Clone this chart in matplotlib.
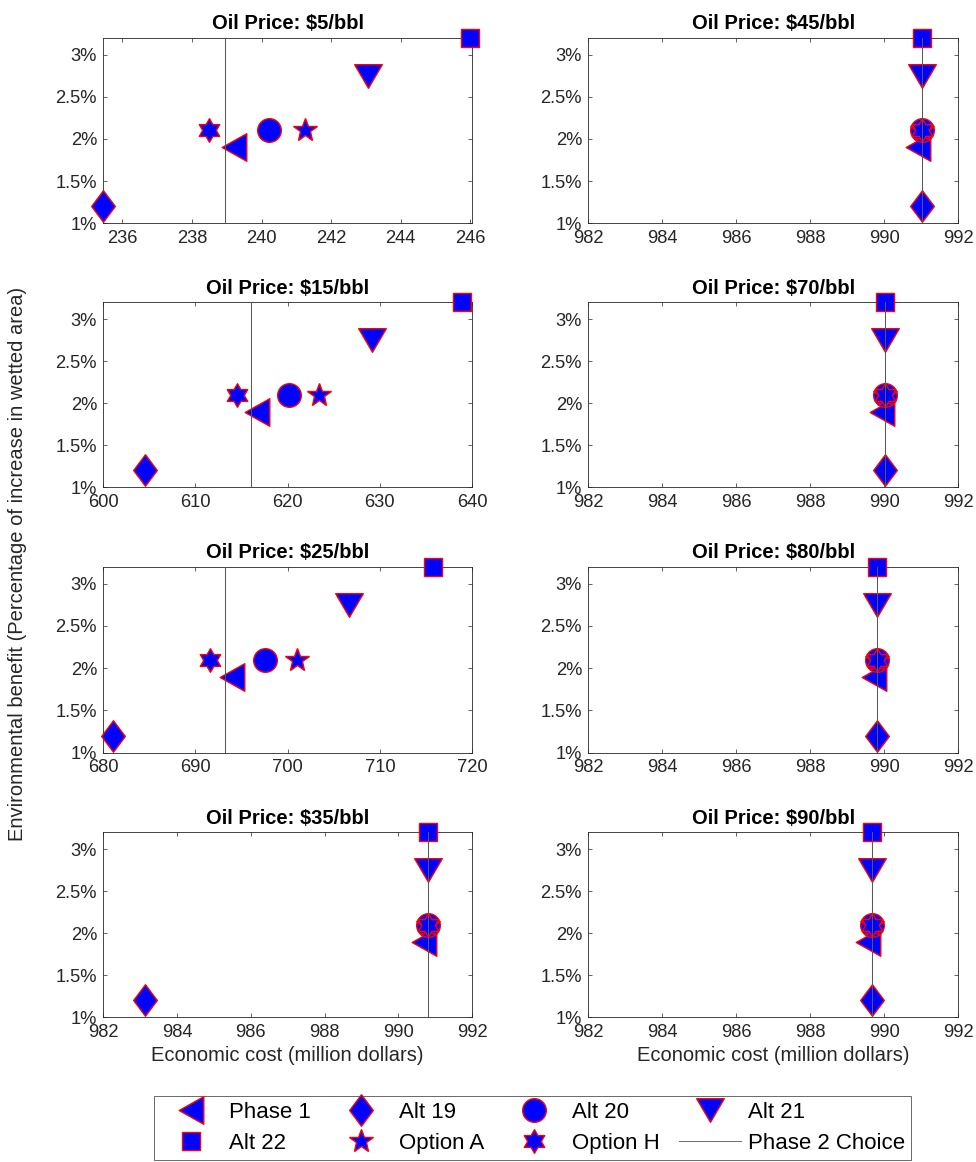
import numpy as np
import matplotlib
matplotlib.use("Agg")
import matplotlib.pyplot as plt
from matplotlib.path import Path
from matplotlib.lines import Line2D
from matplotlib.ticker import FuncFormatter

plt.rcParams['font.family'] = ['Liberation Sans', 'DejaVu Sans']

# ---------------- data ----------------
oil_prices = [5, 15, 25, 35, 45, 70, 80, 90]
series_names = ["Phase 1", "Alt 19", "Alt 20", "Alt 21", "Alt 22", "Option A", "Option H"]
# environmental benefit (% increase in wetted area)
benefit = [1.9, 1.2, 2.1, 2.75, 3.2, 2.1, 2.1]
# economic cost (million dollars), one value per oil price panel
cost_phase1 = [239.2, 616.7, 694.0, 990.70, 990.92, 989.93, 989.72, 989.57]
cost_alt19 = [235.45, 604.5, 681.1, 983.13, 991.03, 990.03, 989.81, 989.68]
cost_alt20 = [240.2, 620.1, 697.5, 990.81, 991.03, 990.03, 989.81, 989.68]
cost_alt21 = [243.05, 629.1, 706.7, 990.81, 991.03, 990.03, 989.81, 989.68]
cost_alt22 = [246.0, 638.9, 715.8, 990.81, 991.03, 990.03, 989.81, 989.68]
cost_optA = [241.25, 623.4, 701.0, 990.81, 991.03, 990.03, 989.81, 989.68]
cost_optH = [238.5, 614.5, 691.6, 990.81, 991.03, 990.03, 989.81, 989.68]
phase2_choice = [238.96, 616.0, 693.2, 990.81, 991.03, 990.03, 989.81, 989.68]
y_ticks = [1, 1.5, 2, 2.5, 3]

costs = [cost_phase1, cost_alt19, cost_alt20, cost_alt21, cost_alt22, cost_optA, cost_optH]

# ---------------- marker shapes ----------------
def closed(verts):
    verts = list(verts) + [verts[0]]
    codes = [Path.MOVETO] + [Path.LINETO] * (len(verts) - 2) + [Path.CLOSEPOLY]
    return Path(verts, codes)

tri_left = closed([(-0.89, 0), (0.89, 1), (0.89, -1)])
tri_down = closed([(-1, 0.855), (1, 0.855), (0, -0.855)])
diamond = closed([(0, 1), (0.75, 0), (0, -1), (-0.75, 0)])
hexagram = Path.unit_regular_star(6, innerCircle=0.57735)

markers = [tri_left, diamond, 'o', tri_down, 's', '*', hexagram]
msizes = [19.9, 22.7, 17.0, 19.9, 13.4, 17.9, 17.0]

# ---------------- layout ----------------
W, H = 976, 1162
fig = plt.figure(figsize=(W / 100, H / 100), dpi=100)

col_x = [(103.3, 472.0), (588.3, 958.3)]
row_y = [(37.7, 223.3), (302.3, 487.3), (566.7, 752.7), (832.3, 1017.3)]

xlims = [(235.45, 246.05), (600, 640), (680, 720), (982, 992),
         (982, 992), (982, 992), (982, 992), (982, 992)]
xticks = [np.arange(236, 247, 2), np.arange(600, 641, 10), np.arange(680, 721, 10),
          np.arange(982, 993, 2), np.arange(982, 993, 2), np.arange(982, 993, 2),
          np.arange(982, 993, 2), np.arange(982, 993, 2)]

axc = (0.15, 0.15, 0.15)
for i, price in enumerate(oil_prices):
    col = 0 if i < 4 else 1
    row = i % 4
    x0, x1 = col_x[col]
    t, b = row_y[row]
    ax = fig.add_axes([x0 / W, 1 - b / H, (x1 - x0) / W, (b - t) / H])
    for k in range(len(series_names)):
        ax.plot(costs[k][i], benefit[k], linestyle='none', marker=markers[k],
                markersize=msizes[k], markerfacecolor='blue', markeredgecolor='red',
                markeredgewidth=1.0, clip_on=False, zorder=3 + k * 0.01)
    ax.axvline(phase2_choice[i], color='0.35', linewidth=0.75, zorder=4)
    ax.set_xlim(*xlims[i])
    ax.set_ylim(1, 3.2)
    ax.set_xticks(xticks[i])
    ax.set_yticks(y_ticks)
    ax.yaxis.set_major_formatter(FuncFormatter(lambda v, p: f"{v:g}%"))
    ax.tick_params(direction='in', length=2.6, width=0.5, top=True, right=True,
                   labelsize=13.2, colors=axc, pad=4.5)
    for s in ax.spines.values():
        s.set_color(axc)
        s.set_linewidth(0.6)
    ax.set_title(f"Oil Price: ${price}/bbl", fontsize=14.5, fontweight='bold', pad=6)
    if row == 3:
        ax.set_xlabel("Economic cost (million dollars)", fontsize=14.5, color=axc, labelpad=4)

fig.text(18 / W, 1 - 564 / H,
         "Environmental benefit (Percentage of increase in wetted area)",
         rotation=90, ha='center', va='center', fontsize=14.5, color=axc)

# ---------------- legend ----------------
handles = []
for k, name in enumerate(series_names):
    handles.append(Line2D([], [], linestyle='none', marker=markers[k], markersize=msizes[k],
                          markerfacecolor='blue', markeredgecolor='red',
                          markeredgewidth=1.0, label=name))
handles.append(Line2D([], [], color='0.45', linewidth=0.75, label="Phase 2 Choice"))
# column-major ordering so rows read: Phase 1, Alt 19, Alt 20, Alt 21 / Alt 22, Option A, Option H, Phase 2
order = [0, 4, 1, 5, 2, 6, 3, 7]
hs = [handles[j] for j in order]
leg = fig.legend(handles=hs, labels=[h.get_label() for h in hs], ncol=4,
                 loc='center', bbox_to_anchor=(532.5 / W, 1 - 1128 / H),
                 fontsize=16, frameon=True, fancybox=False, edgecolor=axc,
                 handlelength=2.8, handletextpad=0.31, columnspacing=0.85,
                 labelspacing=0.45, borderpad=0.28, borderaxespad=0, numpoints=1)
leg.get_frame().set_linewidth(0.6)

fig.savefig("out.png", dpi=100)
